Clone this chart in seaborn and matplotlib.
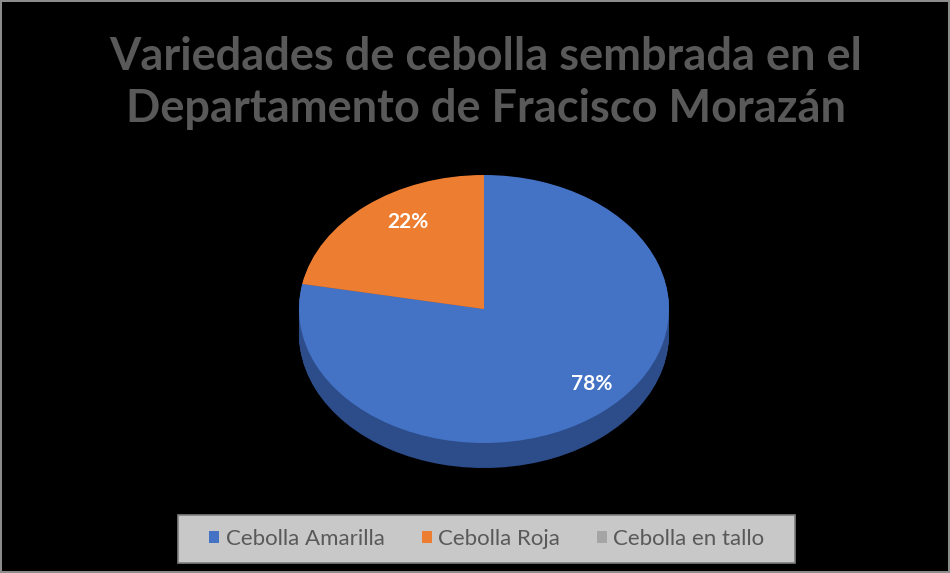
import numpy as np
import matplotlib
matplotlib.use("Agg")
import matplotlib.pyplot as plt
import matplotlib.patches as mpatches
import matplotlib.transforms as mtransforms
import seaborn as sns

# Data
variedades = ["Cebolla Amarilla", "Cebolla Roja", "Cebolla en tallo"]
porcentajes = [78, 22, 0]
colores = ["#4472C4", "#ED7D31", "#A5A5A5"]
colores_lado = ["#2C4C8A", "#A8561C", "#7F7F7F"]
titulo = "Variedades de cebolla sembrada en el\nDepartamento de Fracisco Morazán"

sns.set_theme(style="dark")
plt.rcParams["font.family"] = ["Lato", "DejaVu Sans"]

W, H = 950, 573
fig = plt.figure(figsize=(W / 100, H / 100), dpi=100)
fig.patch.set_facecolor("black")
fig.patch.set_edgecolor("#8c8c8c")
fig.patch.set_linewidth(1.5)

# pie axes: top face spans x 299..669, y 175..443, side down to 468 (pixels)
ax = fig.add_axes([299 / W, (H - 468) / H, 370 / W, 293 / H])
ax.set_facecolor("none")
depth = 25 / 134

# side of the 3D pie: stack darker copies downward
for d in np.linspace(depth, 0.005, 30):
    ax.pie(porcentajes, colors=colores_lado, startangle=90, counterclock=False,
           center=(0, -d), radius=1, frame=True,
           wedgeprops=dict(linewidth=0))

# top face
wedges, texts, autotexts = ax.pie(
    porcentajes, colors=colores, startangle=90, counterclock=False,
    center=(0, 0), radius=1, frame=True,
    autopct=lambda p: f"{p:.0f}%" if p > 0 else "",
    pctdistance=0.78,
    textprops=dict(color="white", fontsize=15, fontweight="bold"),
    wedgeprops=dict(linewidth=0))
ax.set_xlim(-1, 1)
ax.set_ylim(-1 - depth, 1)
ax.set_aspect("auto")
ax.set_axis_off()

# nudge labels the way the perspective view places them
shift = mtransforms.ScaledTranslation(0.16, 0.06, fig.dpi_scale_trans)
for t in autotexts:
    t.set_transform(t.get_transform() + shift)

fig.text(486 / W, 1 - 83 / H, titulo, ha="center", va="center",
         fontsize=32.5, fontweight="bold", color="#595959", linespacing=1.28)

# legend box
fig.patches.append(mpatches.Rectangle(
    (178 / W, (H - 563) / H), 617 / W, 48 / H, transform=fig.transFigure,
    facecolor="#c8c8c8", edgecolor="#7f7f7f", linewidth=1.2, zorder=0))

handles = [mpatches.Patch(facecolor=c, edgecolor="none") for c in colores]
leg = fig.legend(handles, variedades, loc="center", ncol=3,
                 bbox_to_anchor=(487 / W, 1 - 539 / H), frameon=False,
                 fontsize=16, handlelength=0.45, handleheight=0.45,
                 handletextpad=0.3, columnspacing=1.65, borderaxespad=0)
for t in leg.get_texts():
    t.set_color("#595959")

fig.savefig("out.png", dpi=100, facecolor=fig.get_facecolor(),
            edgecolor=fig.get_edgecolor())
